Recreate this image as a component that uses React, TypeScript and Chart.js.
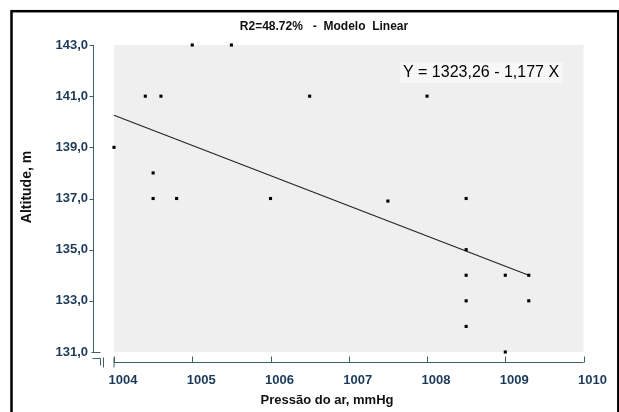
import React, { useEffect, useRef } from "react";
import { Chart, registerables } from "chart.js";

Chart.register(...registerables);

const pressure = [1004.0, 1004.4, 1004.6, 1005.0, 1005.5, 1004.5, 1004.5, 1004.8, 1006.0, 1006.5, 1007.5, 1008.0, 1008.5, 1008.5, 1008.5, 1008.5, 1008.5, 1009.0, 1009.0, 1009.3, 1009.3];
const altitude = [139, 141, 141, 143, 143, 138, 137, 137, 137, 141, 136.9, 141, 137, 135, 134, 133, 132, 134, 131, 134, 133];
const fitX = [1004.0, 1009.3];
const fitY = [140.25, 134.0];
const xTicks = [1004, 1005, 1006, 1007, 1008, 1009, 1010];
const yTicks = [131, 133, 135, 137, 139, 141, 143];
const titleText = "R2=48.72%   -  Modelo  Linear";
const equationText = "Y = 1323,26 - 1,177 X";
const xTitle = "Pressão do ar, mmHg";
const yTitle = "Altitude, m";

const FONT = '"Liberation Sans", Arial, sans-serif';
const LABEL = "#1c3a58";
const AXIS = "#3e6262";

const decor = {
  id: "decor",
  beforeDraw(chart: any) {
    const { ctx, chartArea: a } = chart;
    ctx.save();
    ctx.fillStyle = "#ffffff";
    ctx.fillRect(0, 0, chart.width, chart.height);
    ctx.strokeStyle = "#000";
    ctx.lineWidth = 2.5;
    ctx.strokeRect(11.5, 11.2, 606.8, 520);
    ctx.fillStyle = "#efefef";
    ctx.fillRect(a.left, a.top, a.right - a.left, a.bottom - a.top);
    ctx.fillStyle = "#f7f7f7";
    ctx.fillRect(400, 62, 163, 21);
    ctx.restore();
  },
  afterDraw(chart: any) {
    const { ctx, chartArea: a } = chart;
    const xs = chart.scales.x;
    const ys = chart.scales.y;
    ctx.save();
    ctx.strokeStyle = AXIS;
    ctx.lineWidth = 1;
    const line = (x1: number, y1: number, x2: number, y2: number) => {
      ctx.beginPath();
      ctx.moveTo(x1, y1);
      ctx.lineTo(x2, y2);
      ctx.stroke();
    };
    const ax = 93.5;
    line(ax, ys.getPixelForValue(143), ax, ys.getPixelForValue(131));
    yTicks.forEach((v) => {
      const y = Math.round(ys.getPixelForValue(v)) + 0.5;
      if (v === 131) line(ax - 2, y, ax + 7, y);
      else line(ax - 4, y, ax, y);
    });
    // axis break
    const by = Math.round(ys.getPixelForValue(131)) + 6.5;
    line(ax - 1, by, ax + 7, by);
    line(ax + 7, by, ax + 7, by + 7);
    // x axis
    const xy = Math.round(a.bottom) + 10.5;
    line(103.5, xy - 5, 103.5, xy + 5);
    line(xs.getPixelForValue(1004), xy - 5, xs.getPixelForValue(1004), xy + 5);
    line(xs.getPixelForValue(1004), xy, xs.getPixelForValue(1010), xy);
    xTicks.forEach((v) => {
      const x = Math.round(xs.getPixelForValue(v)) + 0.5;
      line(x, xy - 6, x, xy);
    });
    // texts
    ctx.fillStyle = "#111";
    ctx.textAlign = "center";
    ctx.textBaseline = "middle";
    ctx.font = `bold 12px ${FONT}`;
    ctx.fillText(titleText, 324, 27);
    ctx.font = `16px ${FONT}`;
    ctx.fillStyle = "#000";
    ctx.fillText(equationText, 481, 73);
    ctx.font = `bold 13px ${FONT}`;
    ctx.fillStyle = "#111";
    ctx.fillText(xTitle, 327, 400);
    ctx.save();
    ctx.translate(27, 187);
    ctx.rotate(-Math.PI / 2);
    ctx.font = `bold 14px ${FONT}`;
    ctx.fillText(yTitle, 0, 0);
    ctx.restore();
    ctx.restore();
  },
};

export default function App() {
  const ref = useRef<HTMLCanvasElement | null>(null);
  useEffect(() => {
    document.body.style.margin = "0";
    const canvas = ref.current!;
    const chart = new Chart(canvas, {
      type: "scatter",
      data: {
        datasets: [
          {
            label: "dados",
            data: pressure.map((x, i) => ({ x, y: altitude[i] })),
            pointStyle: "rect",
            pointRadius: 2.2,
            pointBorderWidth: 0,
            backgroundColor: "#000",
            borderColor: "#000",
            clip: false as any,
          },
          {
            label: "ajuste",
            data: fitX.map((x, i) => ({ x, y: fitY[i] })),
            showLine: true,
            pointRadius: 0,
            borderColor: "#222222",
            borderWidth: 1.1,
            clip: false as any,
          } as any,
        ],
      },
      options: {
        animation: false,
        responsive: false,
        events: [],
        layout: { padding: { top: 45, right: 35, left: 0, bottom: 0 } },
        plugins: { legend: { display: false }, tooltip: { enabled: false }, title: { display: false } },
        scales: {
          x: {
            type: "linear",
            min: 1004,
            max: 1010,
            afterBuildTicks: (s: any) => {
              s.ticks = xTicks.map((v) => ({ value: v }));
            },
            afterFit: (s: any) => {
              s.height = 60;
            },
            grid: { display: false, drawTicks: false },
            border: { display: false },
            ticks: {
              color: LABEL,
              font: { family: FONT, size: 13, weight: "bold" },
              padding: 21,
              labelOffset: 9,
              maxRotation: 0,
              autoSkip: false,
              callback: (v: any) => String(v),
            },
          },
          y: {
            type: "linear",
            min: 131,
            max: 143,
            afterBuildTicks: (s: any) => {
              s.ticks = yTicks.map((v) => ({ value: v }));
            },
            afterFit: (s: any) => {
              s.width = 114;
            },
            grid: { display: false, drawTicks: false },
            border: { display: false },
            ticks: {
              color: LABEL,
              font: { family: FONT, size: 13, weight: "bold" },
              padding: 26,
              autoSkip: false,
              callback: (v: any) => Number(v).toFixed(1).replace(".", ","),
            },
          },
        },
      },
      plugins: [decor],
    });
    return () => chart.destroy();
  }, []);
  return <canvas ref={ref} width={619} height={412} style={{ display: "block" }} />;
}
